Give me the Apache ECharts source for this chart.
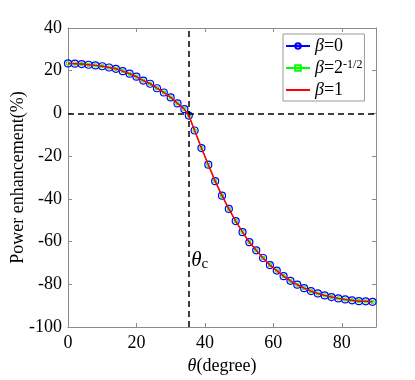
<!DOCTYPE html>
<html>
<head>
<meta charset="utf-8">
<script src="https://cdn.jsdelivr.net/npm/echarts@6/dist/echarts.min.js"></script>
<style>
    html, body {margin: 0; padding: 0; background: #fff;}
    #chart {width: 415px; height: 380px;}
</style>
</head>
<body>
<div id="chart"></div>
<script>
const chartElement = document.getElementById('chart');
const myChart = echarts.init(chartElement);

// incidence angle (degree)
const theta = [
    0, 2, 4, 6, 8, 10, 12, 14, 16, 18, 20, 22, 24, 26, 28, 30, 32, 34, 35.3,
    37, 39, 41, 43, 45, 47, 49, 51, 53, 55, 57, 59, 61, 63, 65, 67, 69, 71,
    73, 75, 77, 79, 81, 83, 85, 87, 89,
];
// power enhancement (%), the three curves lie on top of each other
const enhancement = [
    23.4, 23.3, 23.1, 22.8, 22.5, 22.1, 21.5, 20.9, 19.8, 18.6, 17.2, 15.4,
    13.9, 11.8, 9.8, 7.5, 4.7, 2.0, -1.0,
    -8.0, -16.2, -24.0, -31.7, -38.5, -44.7, -50.4, -55.6, -60.3, -64.1,
    -67.7, -71.0, -73.6, -76.2, -78.4, -80.2, -81.8, -83.2, -84.3, -85.2,
    -86.0, -86.6, -87.1, -87.5, -87.9, -88.0, -88.2,
];
const seriesNames = ['beta0', 'betaHalf', 'beta1'];
const legendLabels = {
    beta0: '{i|β}=0',
    betaHalf: '{i|β}=2{sup|-1/2}',
    beta1: '{i|β}=1',
};
const thetaC = 35.26;
const yTicks = [-100, 40, 20];
const xTicks = [0, 90, 20];

const font = 'Liberation Serif';
const axisGray = '#8c8c8c';

const points = theta.map((t, i) => [t, enhancement[i]]);

const boxAxis = (extra) => ({
    axisLine: {show: true, onZero: false, lineStyle: {color: axisGray, width: 1}},
    axisTick: {show: true, inside: true, length: 4, lineStyle: {color: axisGray}},
    splitLine: {show: false},
    ...extra,
});

const option = {
    animation: false,
    backgroundColor: '#fff',
    grid: {left: 68, right: 39, top: 28, bottom: 53, outerBoundsMode: 'none'},
    legend: {
        orient: 'vertical',
        left: 283,
        top: 34,
        padding: [3, 2, 2, 2],
        itemWidth: 24,
        itemHeight: 7,
        itemGap: 4,
        borderColor: '#999',
        borderWidth: 1,
        backgroundColor: '#fff',
        data: [
            {name: 'beta0'},
            {name: 'betaHalf'},
            {name: 'beta1', itemStyle: {color: 'rgba(0,0,0,0)', borderWidth: 0}},
        ],
        formatter: (name) => legendLabels[name],
        textStyle: {
            fontFamily: font,
            fontSize: 18,
            color: '#000',
            rich: {
                i: {fontFamily: font, fontSize: 18, fontStyle: 'italic', color: '#000'},
                sup: {fontFamily: font, fontSize: 12, verticalAlign: 'top', color: '#000'},
            },
        },
    },
    xAxis: [
        boxAxis({
            type: 'value',
            min: xTicks[0],
            max: xTicks[1],
            interval: xTicks[2],
            name: '{i|θ}(degree)',
            nameLocation: 'middle',
            nameGap: 30,
            nameMoveOverlap: false,
            nameTextStyle: {
                fontFamily: font,
                fontSize: 18,
                color: '#000',
                rich: {i: {fontFamily: font, fontSize: 18, fontStyle: 'italic', color: '#000'}},
            },
            axisLabel: {
                fontFamily: font,
                fontSize: 18,
                color: '#000',
                margin: 7,
                formatter: (v) => (v === 90 ? '' : String(v)),
            },
        }),
        boxAxis({
            type: 'value',
            position: 'top',
            min: xTicks[0],
            max: xTicks[1],
            interval: xTicks[2],
            axisLabel: {show: false},
        }),
    ],
    yAxis: [
        boxAxis({
            type: 'value',
            min: yTicks[0],
            max: yTicks[1],
            interval: yTicks[2],
            name: 'Power enhancement(%)',
            nameLocation: 'middle',
            nameGap: 41,
            nameMoveOverlap: false,
            nameTextStyle: {fontFamily: font, fontSize: 18, color: '#000'},
            axisLabel: {fontFamily: font, fontSize: 18, color: '#000', margin: 6},
        }),
        boxAxis({
            type: 'value',
            position: 'right',
            min: yTicks[0],
            max: yTicks[1],
            interval: yTicks[2],
            axisLabel: {show: false},
        }),
    ],
    series: [
        {
            name: 'beta0',
            type: 'line',
            data: points,
            z: 3,
            symbol: 'circle',
            symbolSize: 7,
            itemStyle: {color: 'rgba(0,0,255,0)', borderColor: '#0000ff', borderWidth: 1.2},
            lineStyle: {color: '#0000ff', width: 1},
            markLine: {
                silent: true,
                symbol: 'none',
                label: {show: false},
                lineStyle: {color: '#000', type: [6, 4], width: 1.5},
                data: [{yAxis: 0}, {xAxis: thetaC}],
            },
        },
        {
            name: 'betaHalf',
            type: 'line',
            data: points,
            z: 4,
            symbol: 'rect',
            symbolSize: 3,
            itemStyle: {color: 'rgba(0,255,0,0)', borderColor: '#00ff00', borderWidth: 1},
            lineStyle: {color: '#00ff00', width: 1},
        },
        {
            name: 'beta1',
            type: 'line',
            data: points,
            z: 5,
            symbol: 'none',
            itemStyle: {color: '#ff0000'},
            lineStyle: {color: '#ff0000', width: 1.5},
            markPoint: {
                silent: true,
                symbol: 'circle',
                symbolSize: 0,
                data: [{coord: [36, -69]}],
                label: {
                    show: true,
                    position: 'right',
                    distance: 0,
                    formatter: '{t|θ}{s|c}',
                    rich: {
                        t: {fontFamily: font, fontSize: 21, fontStyle: 'italic', color: '#000'},
                        s: {fontFamily: font, fontSize: 15, verticalAlign: 'bottom', color: '#000'},
                    },
                },
            },
        },
    ],
};

myChart.setOption(option);
</script>
</body>
</html>
